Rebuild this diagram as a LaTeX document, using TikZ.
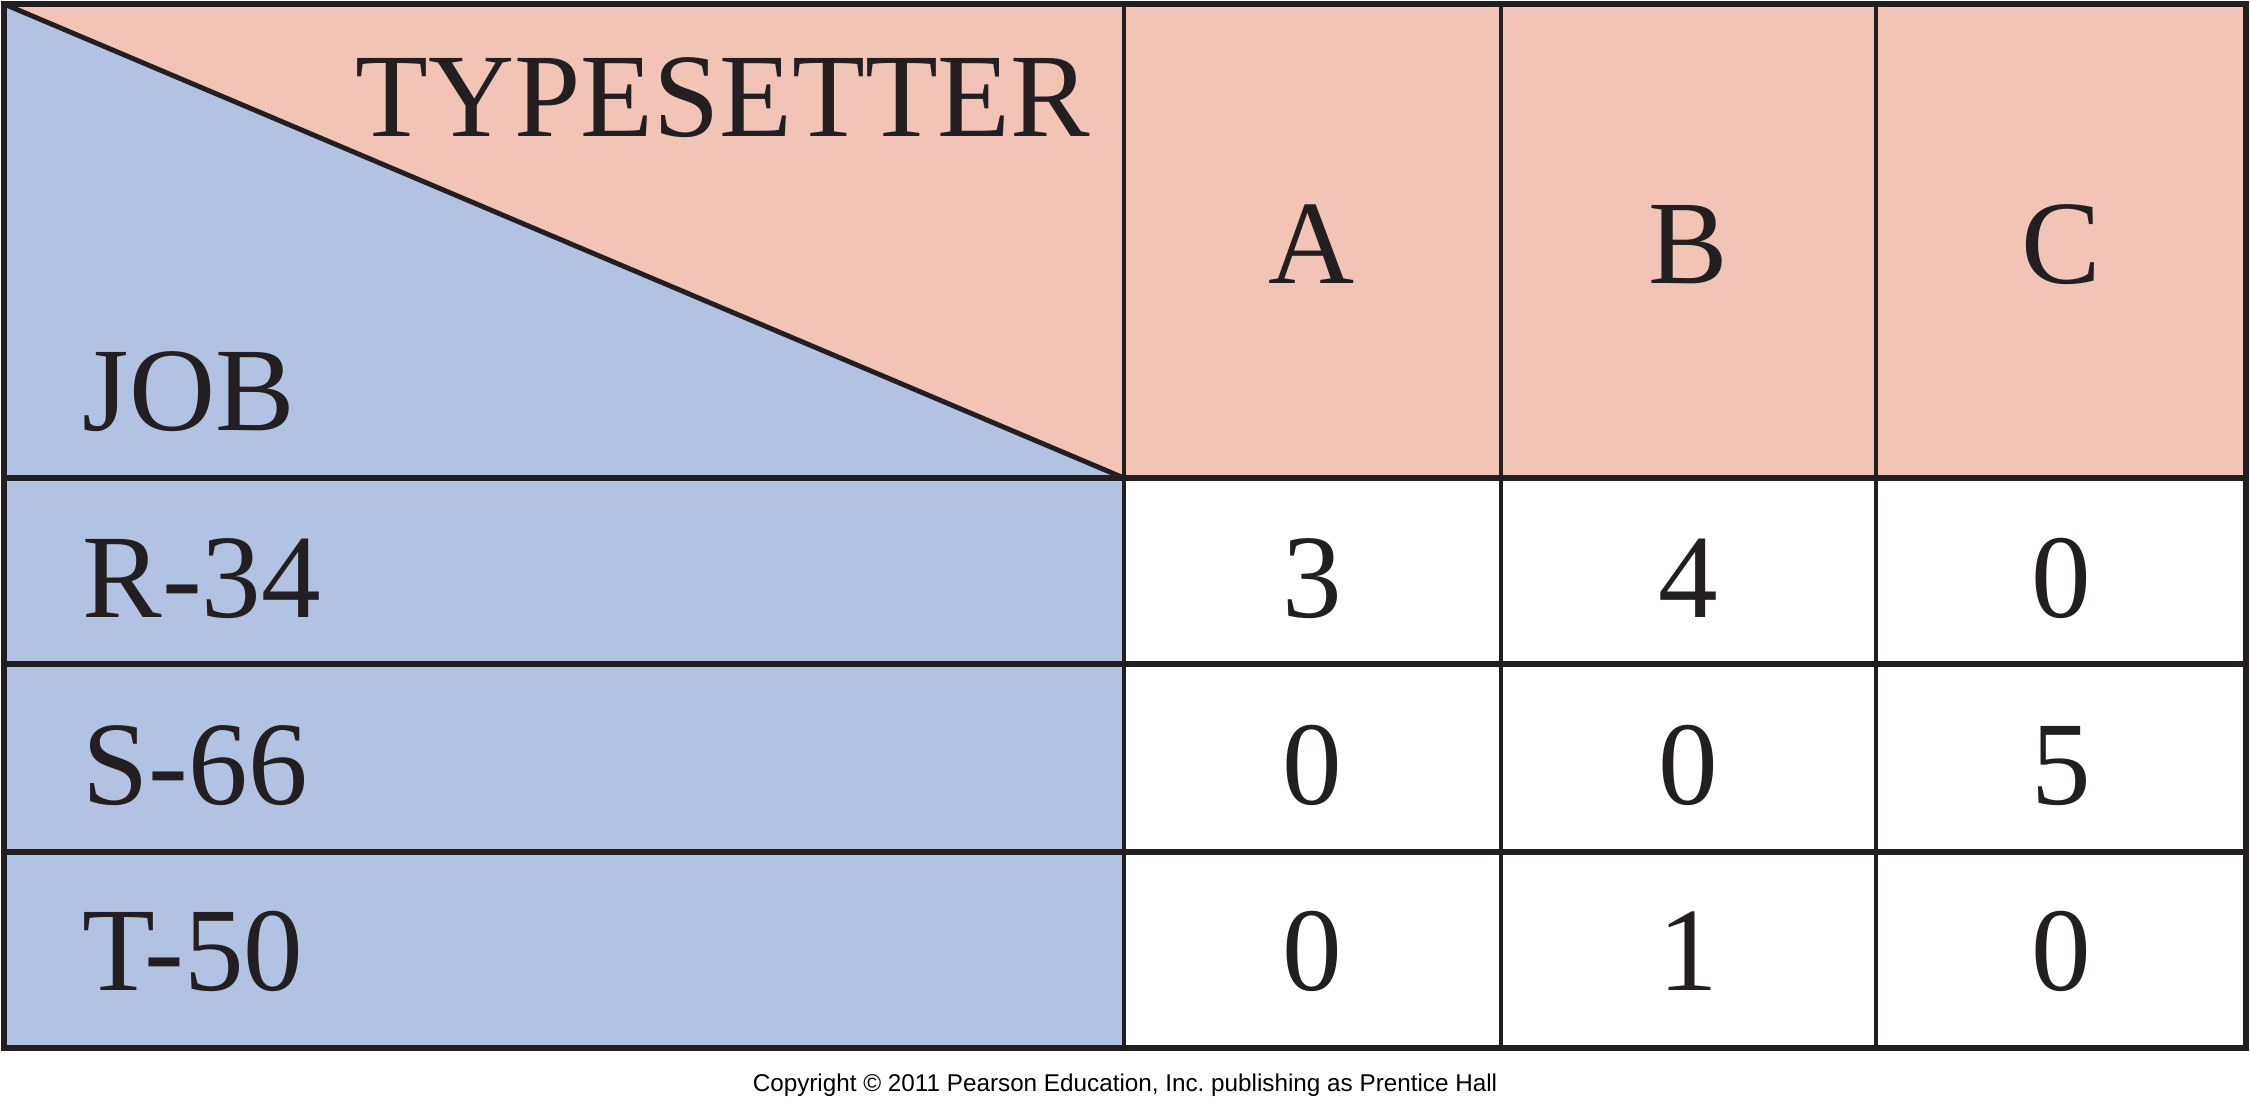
\documentclass[tikz,border=0pt]{standalone}
\usepackage{fontspec}
\setmainfont{Liberation Serif}
\newfontfamily\cfont{Liberation Sans}
\definecolor{hdr}{HTML}{F1C4B5}
\definecolor{side}{HTML}{B2C2E2}
\definecolor{ink}{HTML}{231F20}
\begin{document}
\begin{tikzpicture}[x=0.01cm,y=-0.01cm,
  big/.style={font=\fontsize{33.9}{40}\selectfont, inner sep=0pt, text=ink},
  hline/.style={draw=ink, line width=1.6pt},
  vline/.style={draw=ink, line width=1.25pt},
  frame/.style={draw=ink, line width=1.7pt}]
\useasboundingbox (0,0) rectangle (2250,1117);
\fill[white] (0,0) rectangle (2250,1117);
% corners
\coordinate (tl) at (4,4);
\coordinate (tr) at (2246,4);
\coordinate (bl) at (4,1048);
\coordinate (br) at (2246,1048);
\coordinate (hc) at (1124,478);
% fills
\fill[hdr] (tl) rectangle (2246,478);
\fill[side] (4,478) rectangle (1124,1048);
\fill[side] (tl) -- (hc) -- (4,478) -- cycle;
% grid lines
\draw[hline] (4,478) -- (2246,478);
\draw[hline] (4,664) -- (2246,664);
\draw[hline] (4,852) -- (2246,852);
\draw[vline] (1124,4) -- (1124,1048);
\draw[vline] (1501,4) -- (1501,1048);
\draw[vline] (1876,4) -- (1876,1048);
\draw[vline, line width=1.4pt] (tl) -- (hc);
\draw[frame] (tl) rectangle (br);
% header texts
\node[big, anchor=base east] (typ) at (1091,136) {TYPESETTER};
\node[big, anchor=base west] (job) at (82,430) {JOB};
\node[big, anchor=base] (ca) at (1312,283) {A};
\node[big, anchor=base] (cb) at (1688,283) {B};
\node[big, anchor=base] (cc) at (2061,283) {C};
% row labels
\node[big, anchor=base west] (r1) at (82,617) {R-34};
\node[big, anchor=base west] (r2) at (82,804) {S-66};
\node[big, anchor=base west] (r3) at (82,990) {T-50};
% values
\node[big, anchor=base] (v11) at (1312,617) {3};
\node[big, anchor=base] (v12) at (1688,617) {4};
\node[big, anchor=base] (v13) at (2061,617) {0};
\node[big, anchor=base] (v21) at (1312,804) {0};
\node[big, anchor=base] (v22) at (1688,804) {0};
\node[big, anchor=base] (v23) at (2061,804) {5};
\node[big, anchor=base] (v31) at (1312,990) {0};
\node[big, anchor=base] (v32) at (1688,990) {1};
\node[big, anchor=base] (v33) at (2061,990) {0};
% copyright
\node[anchor=base, inner sep=0pt, font=\cfont\fontsize{6.9}{8}\selectfont] (copy) at (1125,1091) {Copyright © 2011 Pearson Education, Inc.\ publishing as Prentice Hall};
\end{tikzpicture}
\end{document}
